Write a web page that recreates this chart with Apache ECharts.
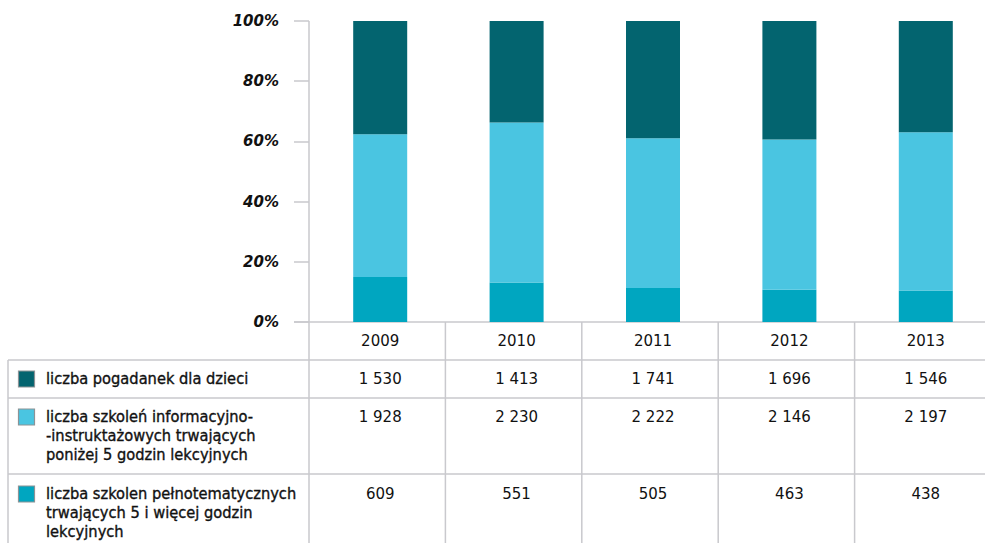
<!DOCTYPE html>
<html><head><meta charset="utf-8">
<script src="https://cdn.jsdelivr.net/npm/echarts@6/dist/echarts.min.js"></script>
<style>html,body{margin:0;padding:0;background:#fff;overflow:hidden}#c{width:985px;height:543px}</style>
</head><body><div id="c"></div>
<script>
const years = ['2009', '2010', '2011', '2012', '2013'];
const labelPogadanki = 'liczba pogadanek dla dzieci';
const labelInfo = 'liczba szkoleń informacyjno-\n-instruktażowych trwających\nponiżej 5 godzin lekcyjnych';
const labelPelne = 'liczba szkolen pełnotematycznych\ntrwających 5 i więcej godzin\nlekcyjnych';
const pogadanki = [1530, 1413, 1741, 1696, 1546];
const szkoleniaInfo = [1928, 2230, 2222, 2146, 2197];
const szkoleniaPelne = [609, 551, 505, 463, 438];
const yTickLabels = ['0%', '20%', '40%', '60%', '80%', '100%'];

const colDark = '#03646F', colLight = '#4AC5E1', colMid = '#00A6C0';
const lineCol = '#C9C9CD';
const totals = years.map((_, i) => pogadanki[i] + szkoleniaInfo[i] + szkoleniaPelne[i]);
const pct = arr => arr.map((v, i) => v / totals[i] * 100);
const fmt = v => String(v).replace(/\B(?=(\d{3})+(?!\d))/g, ' ');

const chart = echarts.init(document.getElementById('c'), null, {renderer: 'svg'});
const tableFont = 'DejaVu Sans';
chart.setOption({
  animation: false,
  backgroundColor: '#fff',
  grid: {left: 312, top: 21, width: 682, height: 301, containLabel: false, outerBoundsMode: 'none'},
  xAxis: {
    type: 'category', data: years,
    axisLine: {show: false}, axisTick: {show: false},
    axisLabel: {fontFamily: tableFont, fontSize: 15, color: '#111', margin: 11}
  },
  yAxis: {
    type: 'value', min: 0, max: 100, interval: 20, offset: 3,
    splitLine: {show: false},
    axisLine: {show: false},
    axisTick: {show: true, length: 15, lineStyle: {color: lineCol, width: 1.5}},
    axisLabel: {
      margin: 30, fontFamily: 'DejaVu Sans', fontSize: 15, fontWeight: 'bold', fontStyle: 'italic', color: '#111',
      formatter: v => yTickLabels[Math.round(v / 20)]
    }
  },
  series: [
    {name: labelPelne, type: 'bar', stack: 's', data: pct(szkoleniaPelne), barWidth: 54, itemStyle: {color: colMid}},
    {name: labelInfo, type: 'bar', stack: 's', data: pct(szkoleniaInfo), barWidth: 54, itemStyle: {color: colLight}},
    {name: labelPogadanki, type: 'bar', stack: 's', data: pct(pogadanki), barWidth: 54, itemStyle: {color: colDark}}
  ]
});

// table built from axis positions
const centers = years.map((_, i) => chart.convertToPixel({xAxisIndex: 0}, i));
const band = centers[1] - centers[0];
const shift = -3;
const axisX = centers[0] - band / 2 + shift;
const y0 = chart.convertToPixel({yAxisIndex: 0}, 0);
const yTop = chart.convertToPixel({yAxisIndex: 0}, 100);
const rowLines = [360, 398, 474];
const H = 543, W = 985, tableLeft = 8;
const g = [];
const ln = (x1, y1, x2, y2) => g.push({type: 'line', silent: true, shape: {x1, y1, x2, y2}, style: {stroke: lineCol, lineWidth: 1.5}});
ln(axisX - 15, y0, W, y0);
rowLines.forEach(y => ln(tableLeft, y, W, y));
ln(tableLeft, rowLines[0], tableLeft, H);
ln(axisX, yTop, axisX, H);
for (let i = 1; i <= years.length; i++) {
  const x = centers[0] - band / 2 + i * band + shift;
  ln(x, y0, x, H);
}
const rows = [
  {label: labelPogadanki, data: pogadanki, color: colDark, y: 379},
  {label: labelInfo, data: szkoleniaInfo, color: colLight, y: 417},
  {label: labelPelne, data: szkoleniaPelne, color: colMid, y: 494}
];
rows.forEach(r => {
  g.push({type: 'rect', silent: true, shape: {x: 18.5, y: r.y - 8, width: 16, height: 16}, style: {fill: r.color, stroke: '#8C9396', lineWidth: 1.2}});
  g.push({type: 'text', silent: true, x: 46, y: r.y - 10.5, style: {text: r.label, fill: '#111', stroke: '#111', lineWidth: 0.35, font: '16.3px "DejaVu Sans Condensed", "DejaVu Sans"', lineHeight: 19, textVerticalAlign: 'top'}});
  r.data.forEach((v, i) => {
    g.push({type: 'text', silent: true, x: centers[i], y: r.y, style: {text: fmt(v), fill: '#111', font: '15px "DejaVu Sans"', textAlign: 'center', textVerticalAlign: 'middle'}});
  });
});
chart.setOption({graphic: g});
</script>
</body></html>
